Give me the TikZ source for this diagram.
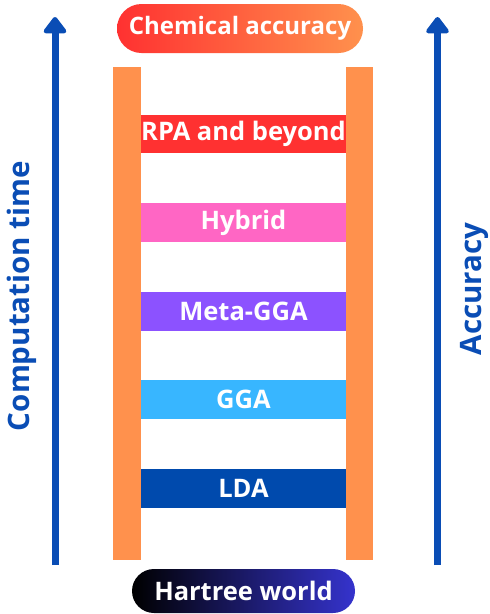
\documentclass[tikz,border=0pt]{standalone}
\usepackage{fontspec}
\setmainfont{Open Sans}
\usepackage{tikz}
\usetikzlibrary{arrows.meta}
\usetikzlibrary{shapes.misc}
\definecolor{railorange}{HTML}{FF914D}
\definecolor{rpared}{HTML}{FF3131}
\definecolor{hybridpink}{HTML}{FF66C4}
\definecolor{metapurple}{HTML}{8C52FF}
\definecolor{ggablue}{HTML}{38B6FF}
\definecolor{ldablue}{HTML}{004AAD}
\definecolor{arrowblue}{HTML}{0A4DB5}
\definecolor{hartreeblue}{HTML}{3533CD}
\tikzset{
  rail/.style={fill=railorange, minimum width=#1, minimum height=493pt, inner sep=0pt},
  rung/.style={minimum width=205pt, minimum height=38.5pt, inner sep=0pt, text=white,
    font=\bfseries\fontsize{25.5}{29}\selectfont},
  pill/.style={rounded rectangle, inner sep=0pt, text=white,
    font=\bfseries\fontsize{#1}{28}\selectfont},
  axislabel/.style={rotate=90, text=arrowblue, font=\bfseries\fontsize{29.5}{33}\selectfont},
  axisarrow/.style={draw=arrowblue, line width=7pt, -{Triangle[width=26pt,length=18pt,round]}}
}
\newcommand{\rung}[4]{\node[rung, fill=#3] (#1) at (243.5,#2) {#4};}

\begin{document}
\begin{tikzpicture}[x=1pt, y=-1pt]
        \useasboundingbox (0,0) rectangle (490,614);
        % rails
        \node[rail=28pt] (leftrail) at (127,313.5) {};
        \node[rail=27pt] (rightrail) at (359.5,313.5) {};
        % rungs
        \rung{rpa}{134}{rpared}{RPA and beyond}
        \rung{hybrid}{222.5}{hybridpink}{Hybrid}
        \rung{metagga}{311.5}{metapurple}{Meta-GGA}
        \rung{gga}{399.5}{ggablue}{GGA}
        \rung{lda}{488.5}{ldablue}{LDA}
        % top and bottom
        \node[pill=24, minimum width=246pt, minimum height=49pt, left color=rpared, right color=railorange]
            (chem) at (240,28.5) {Chemical accuracy};
        \node[pill=25.5, minimum width=223pt, minimum height=44pt, left color=black, right color=hartreeblue]
            (hartree) at (243.5,591) {Hartree world};
        % arrows
        \coordinate (timebot) at (55,565);
        \coordinate (timetop) at (55,17);
        \coordinate (accbot) at (437.5,565);
        \coordinate (acctop) at (437.5,17);
        \draw[axisarrow] (timebot) -- (timetop);
        \draw[axisarrow] (accbot) -- (acctop);
        \node[axislabel] (comptime) at (22,296) {Computation time};
        \node[axislabel] (accuracy) at (474,289) {Accuracy};
\end{tikzpicture}
\end{document}
